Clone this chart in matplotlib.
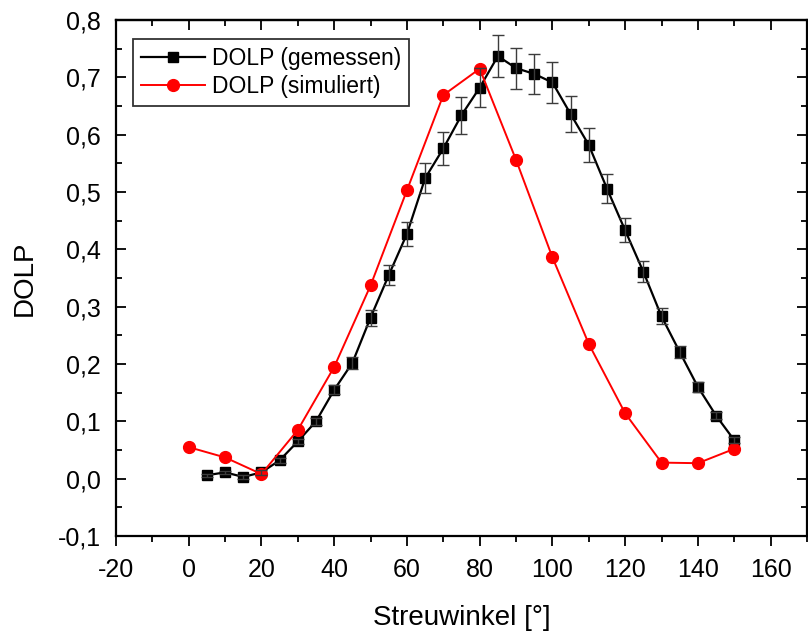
import matplotlib
matplotlib.use("Agg")
import matplotlib.pyplot as plt
from matplotlib.ticker import MultipleLocator, FuncFormatter

plt.rcParams['font.family'] = ['Liberation Sans', 'DejaVu Sans']

# Measured DOLP
x_meas = [5, 10, 15, 20, 25, 30, 35, 40, 45, 50, 55, 60, 65, 70, 75, 80, 85,
          90, 95, 100, 105, 110, 115, 120, 125, 130, 135, 140, 145, 150]
y_meas = [0.006, 0.011, 0.003, 0.011, 0.032, 0.065, 0.100, 0.155, 0.202, 0.281,
          0.355, 0.427, 0.524, 0.576, 0.634, 0.682, 0.737, 0.716, 0.706, 0.691,
          0.636, 0.582, 0.506, 0.433, 0.361, 0.283, 0.221, 0.160, 0.110, 0.067]
err_meas = [0.003, 0.003, 0.003, 0.004, 0.004, 0.005, 0.006, 0.008, 0.010, 0.014,
            0.018, 0.021, 0.026, 0.029, 0.032, 0.034, 0.037, 0.036, 0.035, 0.035,
            0.032, 0.029, 0.025, 0.021, 0.018, 0.014, 0.011, 0.008, 0.006, 0.005]

# Simulated DOLP
x_sim = [0, 10, 20, 30, 40, 50, 60, 70, 80, 90, 100, 110, 120, 130, 140, 150]
y_sim = [0.055, 0.037, 0.008, 0.085, 0.195, 0.337, 0.503, 0.669, 0.715, 0.556,
         0.386, 0.235, 0.114, 0.028, 0.027, 0.052]

label_meas = "DOLP (gemessen)"
label_sim = "DOLP (simuliert)"
xlabel = "Streuwinkel [°]"
ylabel = "DOLP"

fig = plt.figure(figsize=(8.08, 6.37), dpi=100)
ax = fig.add_axes([116/808, 101/637, (807-116)/808, (536-20)/637])

ax.errorbar(x_meas, y_meas, yerr=err_meas, fmt='none', ecolor='#3c3c3c',
            elinewidth=1.0, capsize=4.5, capthick=1.0, zorder=5)
ax.plot(x_meas, y_meas, color='black', lw=1.6, marker='s', ms=7.5,
        mec='black', mfc='black', label=label_meas, zorder=3)
ax.plot(x_sim, y_sim, color='#ff0000', lw=1.4, marker='o', ms=8.5,
        mec='#ff0000', mfc='#ff0000', label=label_sim, zorder=4)

ax.set_xlim(-20, 170)
ax.set_ylim(-0.1, 0.8)
ax.xaxis.set_major_locator(MultipleLocator(20))
ax.xaxis.set_minor_locator(MultipleLocator(10))
ax.yaxis.set_major_locator(MultipleLocator(0.1))
ax.yaxis.set_minor_locator(MultipleLocator(0.05))
ax.yaxis.set_major_formatter(FuncFormatter(lambda v, p: f"{v:.1f}".replace('.', ',').replace('-0,0', '0,0')))
ax.xaxis.set_major_formatter(FuncFormatter(lambda v, p: f"{v:.0f}"))

for s in ax.spines.values():
    s.set_linewidth(1.6)

ax.tick_params(axis='x', which='both', direction='out', top=False, labelsize=18, pad=8, width=1.3)
ax.tick_params(axis='y', which='both', direction='in', right=True, labelsize=18, pad=11, width=1.3)
ax.tick_params(which='major', length=7.5)
ax.tick_params(which='minor', length=4)
# top ticks inward
secx = ax.secondary_xaxis('top')
secx.xaxis.set_major_locator(MultipleLocator(20))
secx.xaxis.set_minor_locator(MultipleLocator(10))
secx.tick_params(which='both', direction='in', labeltop=False, width=1.3)
secx.tick_params(which='major', length=7.5)
secx.tick_params(which='minor', length=4)
secx.spines['top'].set_linewidth(1.6)

ax.set_xlabel(xlabel, fontsize=20, labelpad=17)
ax.set_ylabel(ylabel, fontsize=20, labelpad=14)

leg = ax.legend(loc='upper left', bbox_to_anchor=(17/691, 1 - 19/516), fontsize=16.5,
                frameon=True, fancybox=False, edgecolor='black', handlelength=2.8,
                handletextpad=0.3, borderpad=0.35, labelspacing=0.2, borderaxespad=0)
leg.get_frame().set_linewidth(1.3)

fig.savefig("out.png", dpi=100)
